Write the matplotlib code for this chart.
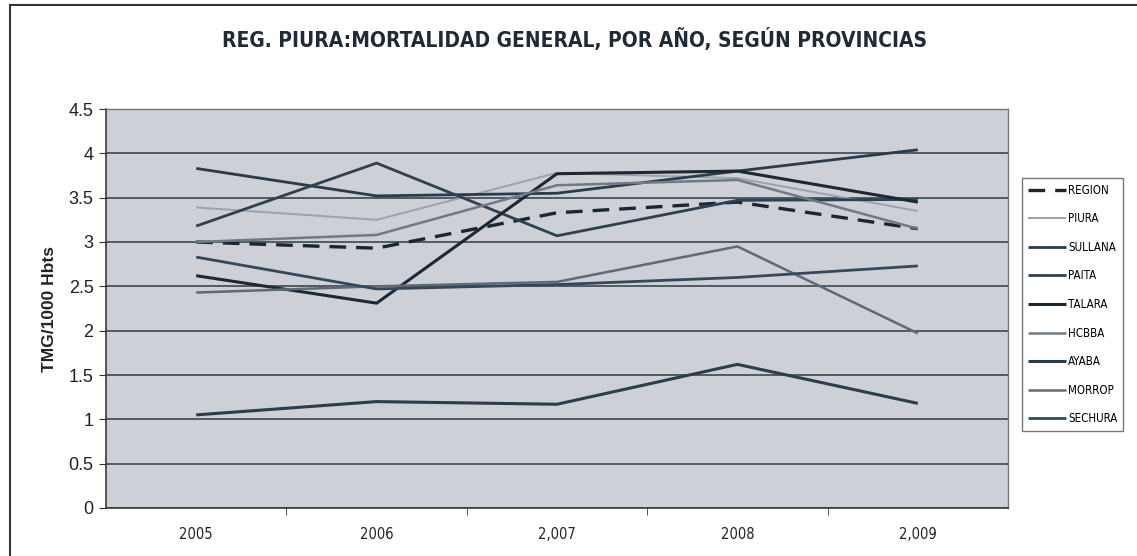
import matplotlib
matplotlib.use("Agg")
import matplotlib.pyplot as plt
from matplotlib.lines import Line2D

years = ["2005", "2006", "2,007", "2008", "2,009"]
region = [3.00, 2.93, 3.33, 3.45, 3.15]
piura = [3.39, 3.25, 3.78, 3.72, 3.35]
sullana = [3.83, 3.52, 3.55, 3.80, 4.04]
paita = [3.18, 3.89, 3.07, 3.47, 3.48]
talara = [2.62, 2.31, 3.77, 3.80, 3.45]
hcbba = [3.00, 3.08, 3.64, 3.70, 3.15]
ayaba = [1.05, 1.20, 1.17, 1.62, 1.18]
morrop = [2.43, 2.50, 2.55, 2.95, 1.97]
sechura = [2.83, 2.47, 2.52, 2.60, 2.73]

series = [
    ("REGION", region, "#1c2630", (0, (5, 3)), 2.4),
    ("PIURA", piura, "#9aa3ab", "-", 1.4),
    ("SULLANA", sullana, "#2b3b49", "-", 2.0),
    ("PAITA", paita, "#2f4150", "-", 2.0),
    ("TALARA", talara, "#1d2833", "-", 2.2),
    ("HCBBA", hcbba, "#6f7a84", "-", 1.8),
    ("AYABA", ayaba, "#2c3d4b", "-", 2.2),
    ("MORROP", morrop, "#5f6a74", "-", 1.8),
    ("SECHURA", sechura, "#34485a", "-", 2.0),
]

COND = dict(family="DejaVu Sans", stretch="condensed")

W, H = 1137, 556
fig = plt.figure(figsize=(W / 100, H / 100), dpi=100)
fig.patch.set_facecolor("white")

ax = fig.add_axes([106 / W, 1 - 508 / H, (1008 - 106) / W, (508 - 109) / H])
ax.set_facecolor("#cdd0d6")

x = list(range(len(years)))
for name, vals, col, ls, lw in series:
    ax.plot(x, vals, color=col, linestyle=ls, linewidth=lw, label=name,
            solid_capstyle="butt", zorder=3)

ax.set_xlim(-0.5, len(years) - 0.5)
ax.set_ylim(0, 4.5)
yt = [0, 0.5, 1, 1.5, 2, 2.5, 3, 3.5, 4, 4.5]
ax.set_yticks(yt)
ax.set_yticklabels(["0", "0.5", "1", "1.5", "2", "2.5", "3", "3.5", "4", "4.5"],
                   fontsize=13, family="Liberation Sans", color="#222222")
ax.set_xticks(x)
ax.set_xticklabels(years, fontsize=10.5, color="#222222", **COND)
ax.set_xticks([i + 0.5 for i in range(len(years) - 1)], minor=True)
ax.tick_params(axis="x", which="major", length=0, pad=14)
ax.tick_params(axis="x", which="minor", length=5, color="#333333", direction="out")
ax.tick_params(axis="y", length=5, color="#333333", pad=4)

ax.yaxis.grid(True, color="#2e3a44", linewidth=1.1, zorder=1)
ax.set_axisbelow(True)
for side in ["left", "bottom"]:
    ax.spines[side].set_color("#3a3a3a")
    ax.spines[side].set_linewidth(1.2)
for side in ["top", "right"]:
    ax.spines[side].set_color("#777777")
    ax.spines[side].set_linewidth(1.0)

ax.set_ylabel("TMG/1000 Hbts", fontsize=12.5, fontweight="bold",
              family="Liberation Sans", color="#222222", labelpad=8)

fig.text(575 / W, 1 - 40 / H, "REG. PIURA:MORTALIDAD GENERAL, POR AÑO, SEGÚN PROVINCIAS",
         ha="center", va="center", fontsize=15, fontweight="bold",
         color="#1e2a36", **COND)

leg = fig.legend(loc="upper left", bbox_to_anchor=(1022 / W, 1 - 178 / H),
                 frameon=True, fancybox=False, edgecolor="#555555",
                 prop={"family": "DejaVu Sans", "stretch": "condensed", "size": 8.3},
                 handlelength=3.3, handletextpad=0.2, labelspacing=1.35,
                 borderpad=0.5, borderaxespad=0)
leg.get_frame().set_linewidth(1.0)

fig.add_artist(Line2D([10 / W, 10 / W], [0, 1 - 5 / H], transform=fig.transFigure,
                      color="#333333", linewidth=1.5))
fig.add_artist(Line2D([10 / W, 1], [1 - 5 / H, 1 - 5 / H], transform=fig.transFigure,
                      color="#333333", linewidth=1.5))

fig.savefig("out.png", dpi=100, facecolor="white")
